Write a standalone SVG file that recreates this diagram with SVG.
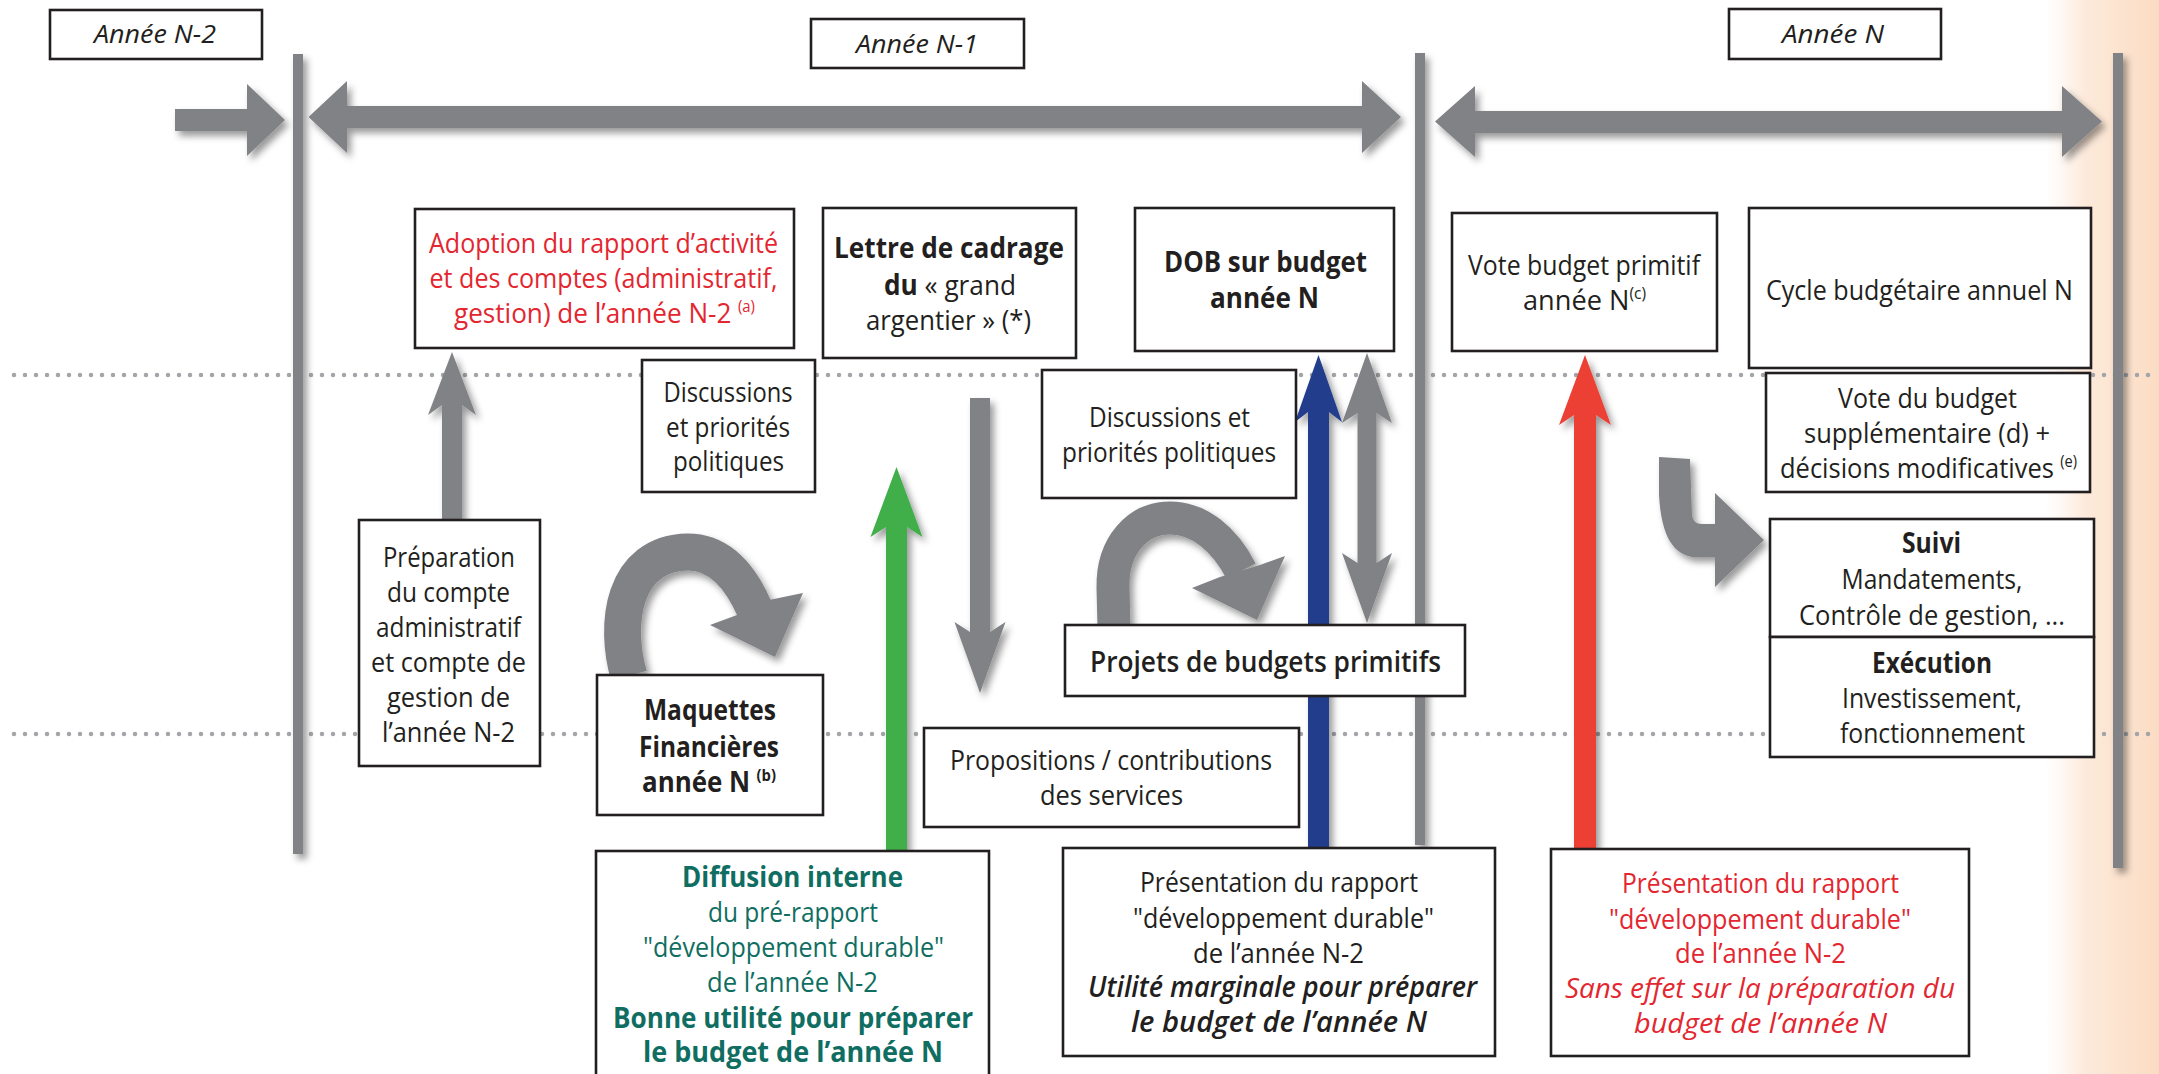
<svg xmlns="http://www.w3.org/2000/svg" width="2159" height="1074" viewBox="0 0 2159 1074">
<defs>
<style>
.box{fill:#fff;stroke:#231f20;stroke-width:2.6}
.t{font-family:"Open Sans","Noto Sans","DejaVu Sans",sans-serif;font-size:28px;font-weight:400;fill:#231f20}
.c{text-anchor:middle}
.b{font-weight:700}
.sb{font-weight:600}
.i{font-style:italic}
.hd{font-family:"Open Sans","Noto Sans",sans-serif;font-size:26px;font-style:italic;font-weight:400;fill:#231f20;text-anchor:middle}
.sup{font-size:16px}
.red{fill:#e3262f}
.teal{fill:#0f6e61}
.gray{fill:#808285}
.grayS{fill:none;stroke:#808285;stroke-linecap:butt}
.dots{fill:none;stroke:#a3a5a8;stroke-width:4.5;stroke-linecap:round;stroke-dasharray:0 11}
</style>
<filter id="sh" filterUnits="userSpaceOnUse" x="0" y="0" width="2159" height="1074">
<feDropShadow dx="4" dy="5" stdDeviation="3.5" flood-color="#000" flood-opacity="0.4"/>
</filter>
<linearGradient id="peach" x1="0" y1="0" x2="1" y2="0">
<stop offset="0" stop-color="#fdf0e6" stop-opacity="0"/>
<stop offset="0.35" stop-color="#fdeadb"/>
<stop offset="1" stop-color="#fbdcc3"/>
</linearGradient>
</defs>
<rect x="0" y="0" width="2159" height="1074" fill="#fff"/>
<rect x="2045" y="0" width="114" height="1074" fill="url(#peach)"/>

<g id="dotted-lines">
<line class="dots" x1="14" y1="375" x2="2159" y2="375"/>
<line class="dots" x1="14" y1="734" x2="2159" y2="734"/>
</g>

<g id="timeline" filter="url(#sh)">
<rect class="gray" x="293" y="54" width="10" height="800"/>
<rect class="gray" x="1415" y="53" width="10" height="792"/>
<rect class="gray" x="2113" y="53" width="10" height="815"/>
<polygon class="gray" points="175,109 247,109 247,84 285,120 247,156 247,131 175,131"/>
<polygon class="gray" points="308.5,117 347,81 347,106 1362,106 1362,81 1401,117 1362,153 1362,128 347,128 347,153"/>
<polygon class="gray" points="1435,121.5 1475,86 1475,111 2062,111 2062,86 2102,121.5 2062,157 2062,133 1475,133 1475,157"/>
</g>

<g id="connectors" filter="url(#sh)">
<polygon class="gray" points="452,352 476,415 462,405 462,520 442,520 442,405 428,415"/>
<polygon fill="#3fae49" points="896.5,467 922.5,537 907,527 907,851 886,851 886,527 870.5,537"/>
<polygon class="gray" points="970,398 990,398 990,632 1005.5,622 980,693 954.5,622 970,632"/>
<polygon fill="#233d8c" points="1318.5,355 1342,422 1329,412 1329,848 1308,848 1308,412 1295,422"/>
<polygon class="gray" points="1367,353 1392,423 1376.5,413 1376.5,563 1392,553 1367,623 1342,553 1357.5,563 1357.5,413 1342,423"/>
<polygon fill="#ec4034" points="1585,355 1611,425 1596,415 1596,849 1574,849 1574,415 1559,425"/>
<path class="grayS" stroke-width="37" d="M 629 676 C 614 625, 622 553, 688 552 C 722 552, 742 580, 755 610"/>
<polygon class="gray" points="710,625 737,615 769,600 803,593 775,657"/>
<path class="grayS" stroke-width="33" d="M 1114 628 L 1113 588 C 1112 545, 1138 518, 1170 518 C 1200 518, 1225 540, 1241 571"/>
<polygon class="gray" points="1192,588 1220,577 1260,565 1285,556 1257,620"/>
<path class="gray" d="M 1659 457 L 1690 459 L 1692 515 Q 1693 524 1702 524 L 1715 524 L 1715 493 L 1764 540 L 1715 587 L 1715 557 L 1692 557 C 1670 553, 1661 530, 1659 495 Z"/>
</g>

<g id="annee-n-2">
<rect class="box" x="50" y="10" width="212" height="49"/>
<text class="hd" x="155" y="43" textLength="122" lengthAdjust="spacingAndGlyphs">Année N-2</text>
</g>
<g id="annee-n-1">
<rect class="box" x="811" y="19" width="213" height="49"/>
<text class="hd" x="917" y="53" textLength="122" lengthAdjust="spacingAndGlyphs">Année N-1</text>
</g>
<g id="annee-n">
<rect class="box" x="1729" y="9" width="212" height="50"/>
<text class="hd" x="1833" y="43" textLength="102" lengthAdjust="spacingAndGlyphs">Année N</text>
</g>

<g id="adoption">
<rect class="box" x="415" y="209" width="379" height="139"/>
<text class="t c red" x="603.5" y="253" textLength="349" lengthAdjust="spacingAndGlyphs">Adoption du rapport d’activité</text>
<text class="t c red" x="603.5" y="288" textLength="348" lengthAdjust="spacingAndGlyphs">et des comptes (administratif,</text>
<text class="t red" x="454" y="323" textLength="301" lengthAdjust="spacingAndGlyphs">gestion) de l’année N-2<tspan class="sup" dx="7" dy="-11">(a)</tspan></text>
</g>

<g id="lettre-cadrage">
<rect class="box" x="823" y="208" width="253" height="150"/>
<text class="t c b" x="949" y="258" textLength="230" lengthAdjust="spacingAndGlyphs">Lettre de cadrage</text>
<text class="t" x="884" y="295" textLength="132" lengthAdjust="spacingAndGlyphs"><tspan class="b">du</tspan> « grand</text>
<text class="t" x="866" y="330" textLength="165" lengthAdjust="spacingAndGlyphs">argentier » (*)</text>
</g>

<g id="dob">
<rect class="box" x="1135" y="208" width="259" height="143"/>
<text class="t c b" x="1265.5" y="272" textLength="203" lengthAdjust="spacingAndGlyphs">DOB sur budget</text>
<text class="t c b" x="1264.5" y="308" textLength="109" lengthAdjust="spacingAndGlyphs">année N</text>
</g>

<g id="vote-budget-primitif">
<rect class="box" x="1452" y="213" width="265" height="138"/>
<text class="t c" x="1584" y="275" textLength="232" lengthAdjust="spacingAndGlyphs">Vote budget primitif</text>
<text class="t" x="1523" y="310" textLength="123" lengthAdjust="spacingAndGlyphs">année N<tspan class="sup" dy="-11">(c)</tspan></text>
</g>

<g id="cycle-budgetaire">
<rect class="box" x="1749" y="208" width="342" height="160"/>
<text class="t c" x="1919.5" y="300" textLength="307" lengthAdjust="spacingAndGlyphs">Cycle budgétaire annuel N</text>
</g>

<g id="discussions-1">
<rect class="box" x="642" y="360" width="173" height="132"/>
<text class="t c" x="728" y="402" textLength="129" lengthAdjust="spacingAndGlyphs">Discussions</text>
<text class="t c" x="728" y="437" textLength="124" lengthAdjust="spacingAndGlyphs">et priorités</text>
<text class="t c" x="728.5" y="471" textLength="111" lengthAdjust="spacingAndGlyphs">politiques</text>
</g>

<g id="discussions-2">
<rect class="box" x="1042" y="370" width="254" height="128"/>
<text class="t c" x="1169.5" y="427" textLength="161" lengthAdjust="spacingAndGlyphs">Discussions et</text>
<text class="t c" x="1169" y="462" textLength="214" lengthAdjust="spacingAndGlyphs">priorités politiques</text>
</g>

<g id="vote-budget-supplementaire">
<rect class="box" x="1766" y="373" width="324" height="119"/>
<text class="t c" x="1927.5" y="408" textLength="179" lengthAdjust="spacingAndGlyphs">Vote du budget</text>
<text class="t c" x="1927" y="443" textLength="246" lengthAdjust="spacingAndGlyphs">supplémentaire (d) +</text>
<text class="t" x="1780" y="478" textLength="297" lengthAdjust="spacingAndGlyphs">décisions modificatives<tspan class="sup" dx="7" dy="-11">(e)</tspan></text>
</g>

<g id="preparation-compte">
<rect class="box" x="359" y="520" width="181" height="246"/>
<text class="t c" x="449" y="567" textLength="132" lengthAdjust="spacingAndGlyphs">Préparation</text>
<text class="t c" x="448.5" y="602" textLength="123" lengthAdjust="spacingAndGlyphs">du compte</text>
<text class="t c" x="448.5" y="637" textLength="145" lengthAdjust="spacingAndGlyphs">administratif</text>
<text class="t c" x="448.5" y="672" textLength="155" lengthAdjust="spacingAndGlyphs">et compte de</text>
<text class="t c" x="448.5" y="707" textLength="123" lengthAdjust="spacingAndGlyphs">gestion de</text>
<text class="t c" x="448.5" y="742" textLength="133" lengthAdjust="spacingAndGlyphs">l’année N-2</text>
</g>

<g id="suivi">
<rect class="box" x="1770" y="519" width="324" height="118"/>
<text class="t c b" x="1931.5" y="553" textLength="59" lengthAdjust="spacingAndGlyphs">Suivi</text>
<text class="t c" x="1932" y="589" textLength="181" lengthAdjust="spacingAndGlyphs">Mandatements,</text>
<text class="t c" x="1932" y="625" textLength="266" lengthAdjust="spacingAndGlyphs">Contrôle de gestion, ...</text>
</g>

<g id="execution">
<rect class="box" x="1770" y="637" width="324" height="120"/>
<text class="t c b" x="1932" y="673" textLength="120" lengthAdjust="spacingAndGlyphs">Exécution</text>
<text class="t c" x="1932" y="708" textLength="180" lengthAdjust="spacingAndGlyphs">Investissement,</text>
<text class="t c" x="1932.5" y="743" textLength="185" lengthAdjust="spacingAndGlyphs">fonctionnement</text>
</g>

<g id="projets-budgets">
<rect class="box" x="1065" y="625" width="400" height="71"/>
<text class="t c sb" x="1265.5" y="672" textLength="351" lengthAdjust="spacingAndGlyphs">Projets de budgets primitifs</text>
</g>

<g id="maquettes">
<rect class="box" x="597" y="675" width="226" height="140"/>
<text class="t c b" x="710" y="720" textLength="132" lengthAdjust="spacingAndGlyphs">Maquettes</text>
<text class="t c b" x="709" y="757" textLength="140" lengthAdjust="spacingAndGlyphs">Financières</text>
<text class="t b" x="642" y="792" textLength="134" lengthAdjust="spacingAndGlyphs">année N<tspan class="sup" dx="7" dy="-11">(b)</tspan></text>
</g>

<g id="propositions">
<rect class="box" x="924" y="728" width="375" height="99"/>
<text class="t c" x="1111" y="770" textLength="322" lengthAdjust="spacingAndGlyphs">Propositions / contributions</text>
<text class="t c" x="1111.5" y="805" textLength="143" lengthAdjust="spacingAndGlyphs">des services</text>
</g>

<g id="diffusion-interne">
<rect class="box" x="596" y="851" width="393" height="230"/>
<text class="t c b teal" x="792.5" y="887" textLength="221" lengthAdjust="spacingAndGlyphs">Diffusion interne</text>
<text class="t c teal" x="793" y="922" textLength="170" lengthAdjust="spacingAndGlyphs">du pré-rapport</text>
<text class="t c teal" x="793.5" y="957" textLength="301" lengthAdjust="spacingAndGlyphs">"développement durable"</text>
<text class="t c teal" x="792.5" y="992" textLength="171" lengthAdjust="spacingAndGlyphs">de l’année N-2</text>
<text class="t c b teal" x="793" y="1028" textLength="360" lengthAdjust="spacingAndGlyphs">Bonne utilité pour préparer</text>
<text class="t c b teal" x="793" y="1062" textLength="300" lengthAdjust="spacingAndGlyphs">le budget de l’année N</text>
</g>

<g id="presentation-n">
<rect class="box" x="1063" y="848" width="432" height="208"/>
<text class="t c" x="1279" y="892" textLength="278" lengthAdjust="spacingAndGlyphs">Présentation du rapport</text>
<text class="t c" x="1283.5" y="928" textLength="301" lengthAdjust="spacingAndGlyphs">"développement durable"</text>
<text class="t c" x="1278.5" y="963" textLength="171" lengthAdjust="spacingAndGlyphs">de l’année N-2</text>
<text class="t c sb i" x="1282.5" y="997" textLength="389" lengthAdjust="spacingAndGlyphs">Utilité marginale pour préparer</text>
<text class="t c sb i" x="1279" y="1032" textLength="296" lengthAdjust="spacingAndGlyphs">le budget de l’année N</text>
</g>

<g id="presentation-vote">
<rect class="box" x="1551" y="849" width="418" height="207"/>
<text class="t c red" x="1760.5" y="893" textLength="277" lengthAdjust="spacingAndGlyphs">Présentation du rapport</text>
<text class="t c red" x="1760" y="929" textLength="302" lengthAdjust="spacingAndGlyphs">"développement durable"</text>
<text class="t c red" x="1760.5" y="963" textLength="171" lengthAdjust="spacingAndGlyphs">de l’année N-2</text>
<text class="t c red i" x="1760" y="998" textLength="390" lengthAdjust="spacingAndGlyphs">Sans effet sur la préparation du</text>
<text class="t c red i" x="1760.5" y="1033" textLength="253" lengthAdjust="spacingAndGlyphs">budget de l’année N</text>
</g>
</svg>
